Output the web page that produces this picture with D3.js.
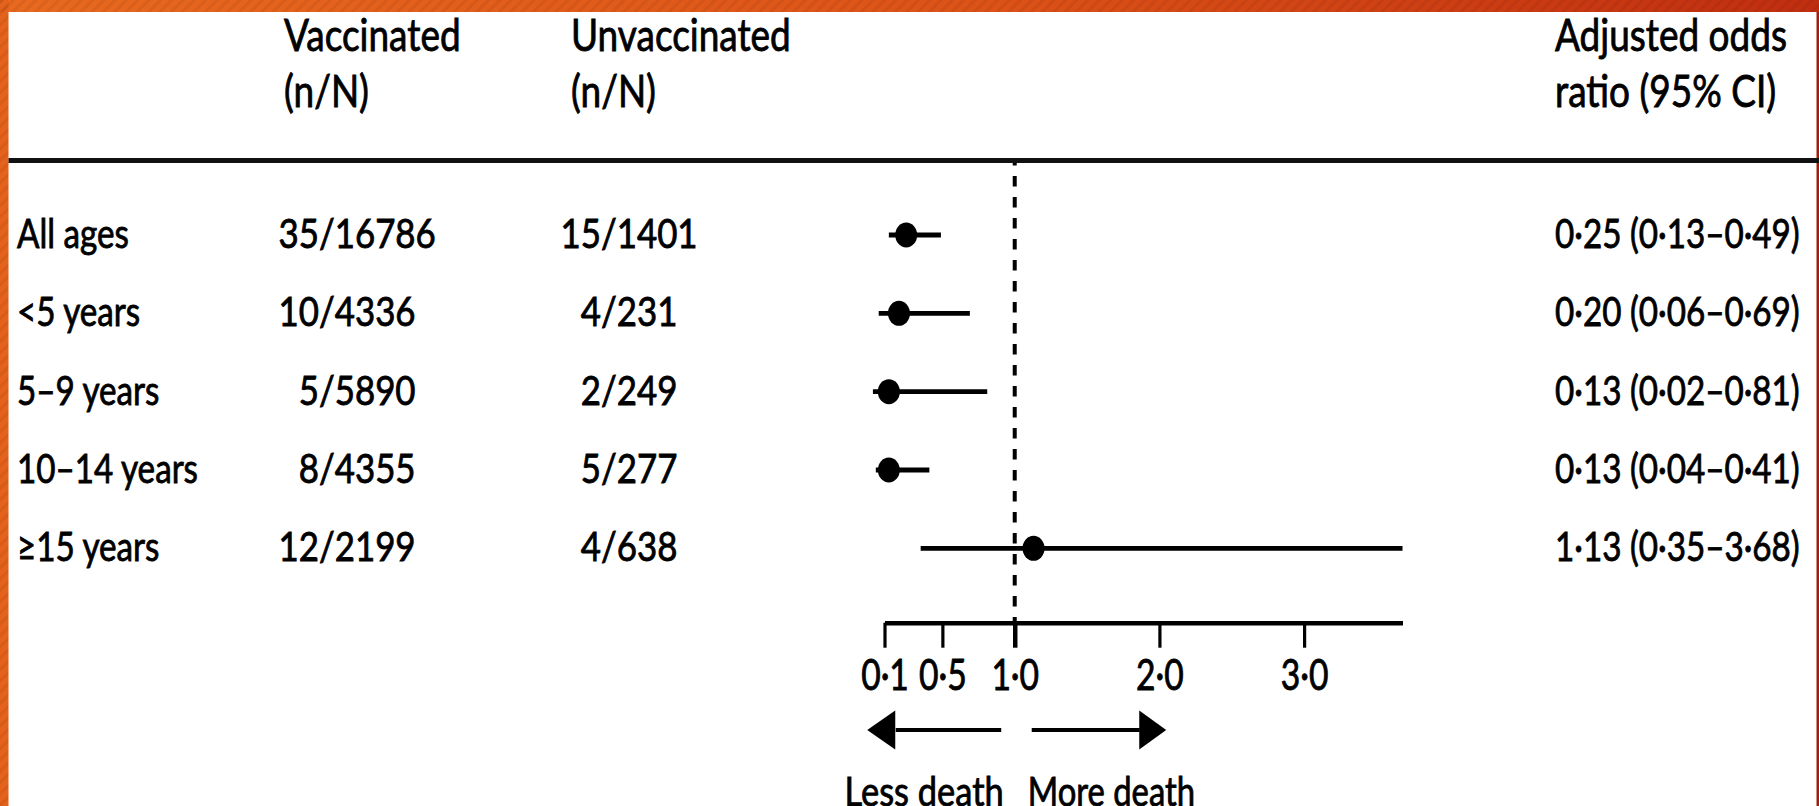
<!DOCTYPE html>
<html><head><meta charset="utf-8">
<script src="https://cdn.jsdelivr.net/npm/d3@7"></script>
<style>
html,body{margin:0;padding:0;background:#fff;overflow:hidden;}
svg{display:block;}
text{font-family:Lato,"Liberation Sans",sans-serif;fill:#000;stroke:#000;stroke-width:0.85px;}
</style></head><body>
<svg id="chart" width="1819" height="806"></svg>
<script>
// ---- data ----
const categories = ["All ages", "<5 years", "5–9 years", "10–14 years", "≥15 years"];
const vaccDeaths = [35, 10, 5, 8, 12];
const vaccTotal  = [16786, 4336, 5890, 4355, 2199];
const unvaxDeaths = [15, 4, 2, 5, 4];
const unvaxTotal  = [1401, 231, 249, 277, 638];
const oddsRatio = [0.25, 0.20, 0.13, 0.13, 1.13];
const ciLow  = [0.13, 0.06, 0.02, 0.04, 0.35];
const ciHigh = [0.49, 0.69, 0.81, 0.41, 3.68];
const tickValues = [0.1, 0.5, 1.0, 2.0, 3.0];
const headerVacc = ["Vaccinated", "(n/N)"];
const headerUnvax = ["Unvaccinated", "(n/N)"];
const headerOR = ["Adjusted odds", "ratio (95% CI)"];
const arrowLabels = ["Less death", "More death"];

// ---- layout ----
const W = 1819, H = 806;
const svg = d3.select("#chart");
const fmt = v => d3.format(".2f")(v).replace(".", "·");
const fmtTick = v => d3.format(".1f")(v).replace(".", "·");

const x = d3.scaleLinear().domain([0.1, 3.68]).range([884.5, 1402.5]);
const y = d3.scalePoint().domain(categories).range([235, 548.3]);
const axisY = 622.7;

const BODY = 41, SX = 0.85, LSX = 0.81, RSX = 0.81;
const HEAD = 44, HSX = 0.84;

// frame
const defs = svg.append("defs");
const grad = defs.append("linearGradient").attr("id", "topgrad").attr("x1", 0).attr("x2", 1).attr("y1", 0).attr("y2", 0);
grad.append("stop").attr("offset", 0).attr("stop-color", "#e8691f");
grad.append("stop").attr("offset", 0.55).attr("stop-color", "#dc5217");
grad.append("stop").attr("offset", 1).attr("stop-color", "#c02e10");
const pat = defs.append("pattern").attr("id", "stripes").attr("width", 8).attr("height", 8)
  .attr("patternUnits", "userSpaceOnUse").attr("patternTransform", "rotate(45)");
pat.append("rect").attr("width", 3).attr("height", 8).attr("fill", "#000").attr("opacity", 0.06);

svg.append("rect").attr("width", W).attr("height", H).attr("fill", "#fff");
svg.append("rect").attr("x", 0).attr("y", 0).attr("width", W).attr("height", 12).attr("fill", "url(#topgrad)");
svg.append("rect").attr("x", 0).attr("y", 0).attr("width", 8.5).attr("height", H).attr("fill", "#e4621c");
svg.append("rect").attr("x", 0).attr("y", 0).attr("width", W).attr("height", 12).attr("fill", "url(#stripes)");
svg.append("rect").attr("x", 0).attr("y", 0).attr("width", 8.5).attr("height", H).attr("fill", "url(#stripes)");
svg.append("rect").attr("x", 1816.5).attr("y", 12).attr("width", 2.5).attr("height", H - 12).attr("fill", "#a51c0c");

function txt(g, px, py, s, size, anchor, sx) {
  return g.append("text")
    .attr("transform", `translate(${px},${py}) scale(${sx},1)`)
    .attr("text-anchor", anchor)
    .attr("font-size", size)
    .text(s);
}

const g = svg.append("g");

// header
const HB1 = 51, HB2 = 107;
[[284, headerVacc], [571, headerUnvax], [1555, headerOR]].forEach(([hx, lines]) => {
  txt(g, hx, HB1, lines[0], HEAD, "start", HSX);
  txt(g, hx, HB2, lines[1], HEAD, "start", HSX);
});

// header rule
g.append("line").attr("x1", 8.5).attr("x2", W).attr("y1", 160.5).attr("y2", 160.5)
  .attr("stroke", "#111").attr("stroke-width", 5);

// reference line at OR = 1
g.append("line").attr("x1", x(1)).attr("x2", x(1)).attr("y1", 163).attr("y2", axisY)
  .attr("stroke", "#000").attr("stroke-width", 4)
  .attr("stroke-dasharray", "10.5,10.5").attr("stroke-dashoffset", 8);

// rows
const base = 13;
categories.forEach((c, i) => {
  const ry = y(c);
  txt(g, 17, ry + base, c, BODY, "start", LSX);
  txt(g, 319, ry + base, String(vaccDeaths[i]), BODY, "end", SX);
  txt(g, 319, ry + base, "/" + vaccTotal[i], BODY, "start", SX);
  txt(g, 601, ry + base, String(unvaxDeaths[i]), BODY, "end", SX);
  txt(g, 601, ry + base, "/" + unvaxTotal[i], BODY, "start", SX);
  txt(g, 1555, ry + base, `${fmt(oddsRatio[i])} (${fmt(ciLow[i])}–${fmt(ciHigh[i])})`, BODY, "start", RSX);
});

// CI lines and points
g.selectAll(".ci").data(categories).join("line").attr("class", "ci")
  .attr("x1", (d, i) => x(ciLow[i])).attr("x2", (d, i) => x(ciHigh[i]))
  .attr("y1", d => y(d)).attr("y2", d => y(d))
  .attr("stroke", "#000").attr("stroke-width", 4.8);
g.selectAll(".pt").data(categories).join("ellipse").attr("class", "pt")
  .attr("cx", (d, i) => x(oddsRatio[i])).attr("cy", d => y(d))
  .attr("rx", 11).attr("ry", 12.5).attr("fill", "#000");

// axis
const axis = d3.axisBottom(x).tickValues(tickValues).tickSize(25).tickSizeOuter(0).tickFormat(fmtTick);
const ag = g.append("g").attr("transform", `translate(0,${axisY})`).call(axis);
ag.select(".domain").attr("stroke", "#000").attr("stroke-width", 4.5);
ag.selectAll(".tick line").attr("stroke", "#000").attr("stroke-width", d => d === 1 ? 4.5 : 3.2);
ag.selectAll(".tick text").attr("y", 67).attr("dy", 0)
  .attr("font-size", 42).attr("font-family", "Lato, 'Liberation Sans', sans-serif").attr("fill", "#000")
  .attr("transform", "scale(0.8,1)");

// direction arrows
const arrowY = 730;
const x1 = x(1);
const ar = g.append("g");
ar.append("line").attr("x1", x1 - 13.5).attr("x2", x1 - 119).attr("y1", arrowY).attr("y2", arrowY).attr("stroke", "#000").attr("stroke-width", 4.2);
ar.append("path").attr("d", d3.line()([[x1 - 147.5, arrowY], [x1 - 119.5, arrowY - 19.5], [x1 - 119.5, arrowY + 19.5]]) + "Z").attr("fill", "#000");
ar.append("line").attr("x1", x1 + 17).attr("x2", x1 + 125).attr("y1", arrowY).attr("y2", arrowY).attr("stroke", "#000").attr("stroke-width", 4.2);
ar.append("path").attr("d", d3.line()([[x1 + 151.5, arrowY], [x1 + 124.5, arrowY - 19.5], [x1 + 124.5, arrowY + 19.5]]) + "Z").attr("fill", "#000");
txt(g, x1 - 11, 806, arrowLabels[0], BODY, "end", 0.84);
txt(g, x1 + 13, 806, arrowLabels[1], BODY, "start", 0.8);
</script>
</body></html>
